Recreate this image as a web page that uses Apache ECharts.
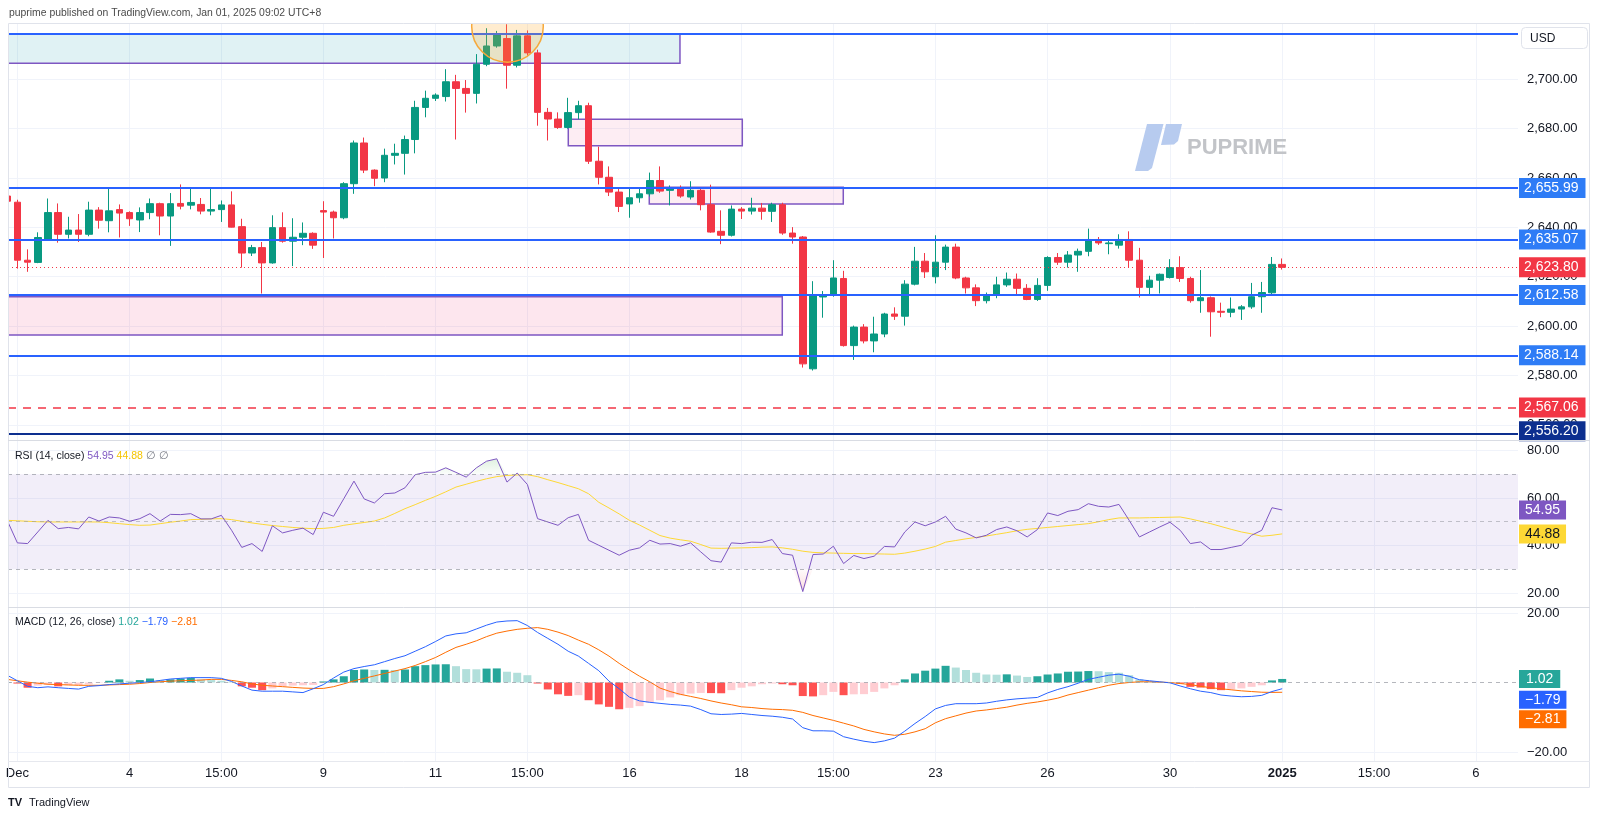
<!DOCTYPE html>
<html><head><meta charset="utf-8">
<script src="https://cdn.jsdelivr.net/npm/echarts@6/dist/echarts.min.js"></script>
<style>html,body{margin:0;padding:0;background:#fff;}#c{width:1600px;height:819px;}</style>
</head><body><div id="c"></div>
<script>
// ---------- DATA (4h bars, index 0..125) ----------
const opens = [2652.7,2650.2,2626.7,2625.8,2635.2,2646.0,2637.2,2638.9,2637.2,2647.0,2642.7,2647.2,2646.0,2643.0,2646.0,2649.6,2644.6,2649.7,2649.0,2649.3,2646.6,2647.2,2649.1,2640.3,2629.6,2631.8,2625.6,2639.9,2634.4,2636.0,2637.6,2646.8,2646.2,2643.9,2657.7,2674.2,2663.2,2660.0,2669.2,2670.0,2675.6,2688.6,2692.3,2693.0,2699.0,2696.3,2694.3,2706.1,2713.5,2716.5,2705.7,2717.6,2710.7,2686.6,2683.9,2680.5,2686.5,2689.3,2666.8,2660.3,2654.3,2649.5,2652.0,2653.6,2659.0,2655.0,2655.9,2652.3,2655.0,2649.2,2638.4,2636.8,2647.4,2646.6,2647.8,2646.5,2649.2,2637.7,2636.1,2582.7,2611.8,2612.6,2619.3,2592.1,2599.6,2594.0,2596.8,2604.9,2604.0,2617.0,2626.3,2620.0,2625.9,2632.0,2619.5,2615.5,2610.3,2612.6,2616.7,2619.0,2615.3,2610.8,2616.5,2627.8,2625.9,2628.8,2630.3,2635.1,2633.4,2632.8,2635.1,2626.7,2615.7,2618.6,2619.7,2623.7,2619.3,2610.3,2611.5,2606.0,2605.6,2606.9,2607.8,2611.9,2613.5,2625.0];
const highs = [2654.0,2651.2,2631.1,2638.0,2651.7,2649.7,2644.3,2645.4,2650.4,2648.2,2656.3,2649.3,2646.5,2648.1,2651.7,2650.0,2653.9,2657.4,2655.7,2651.9,2655.7,2650.9,2654.6,2643.5,2632.9,2634.1,2644.9,2646.1,2643.7,2642.0,2638.0,2650.6,2646.8,2658.3,2675.2,2676.4,2663.5,2671.9,2673.9,2677.2,2691.3,2695.4,2694.3,2704.1,2701.8,2699.7,2710.2,2720.7,2719.6,2722.3,2720.0,2719.8,2712.0,2688.4,2686.6,2692.5,2691.3,2690.5,2672.7,2664.7,2655.7,2656.1,2656.3,2662.2,2664.7,2657.0,2657.0,2658.7,2656.0,2657.3,2646.9,2648.9,2648.2,2652.0,2649.9,2650.0,2650.0,2640.1,2636.5,2618.2,2614.2,2626.7,2622.4,2600.2,2600.8,2603.8,2605.4,2607.6,2618.6,2632.1,2629.6,2636.8,2633.0,2633.4,2620.0,2616.9,2613.6,2620.0,2621.7,2621.3,2617.0,2619.4,2628.3,2629.6,2630.4,2631.4,2639.5,2636.1,2635.1,2637.2,2638.4,2631.7,2620.4,2621.3,2627.1,2628.3,2620.0,2622.7,2612.0,2609.5,2611.6,2608.5,2617.5,2617.9,2628.0,2627.4];
const lows = [2649.5,2623.3,2622.0,2625.5,2635.0,2633.8,2635.5,2634.1,2636.4,2639.5,2638.0,2635.9,2640.6,2638.1,2643.3,2636.8,2632.5,2647.3,2647.3,2645.3,2644.9,2642.2,2640.0,2623.7,2628.4,2613.2,2625.3,2633.8,2624.3,2632.8,2631.3,2627.6,2635.5,2643.3,2653.6,2662.0,2656.7,2658.3,2665.5,2661.4,2670.0,2684.6,2691.2,2691.0,2675.6,2686.5,2690.2,2705.3,2712.8,2696.2,2704.8,2709.5,2681.2,2675.2,2679.9,2680.0,2683.8,2665.7,2657.4,2652.7,2646.2,2643.9,2650.0,2652.5,2654.0,2648.9,2652.0,2651.3,2646.9,2637.8,2633.2,2636.3,2643.4,2645.2,2643.1,2642.2,2637.0,2633.4,2583.2,2582.0,2603.4,2611.9,2591.7,2586.3,2593.0,2589.4,2595.5,2602.5,2600.2,2616.5,2619.5,2617.3,2622.7,2619.0,2613.2,2608.1,2609.2,2611.3,2615.9,2613.0,2610.5,2610.2,2614.3,2624.8,2623.7,2622.0,2628.3,2632.9,2629.1,2631.4,2623.7,2611.6,2613.0,2613.2,2619.3,2617.9,2609.5,2605.4,2595.7,2603.6,2603.6,2602.5,2607.0,2605.4,2613.0,2622.9];
const closes = [2650.6,2626.7,2625.9,2635.9,2646.0,2637.2,2638.9,2637.2,2647.0,2642.9,2646.7,2645.8,2643.5,2646.0,2649.6,2644.6,2649.6,2648.6,2650.1,2646.6,2647.2,2649.1,2640.1,2629.6,2631.8,2625.6,2639.9,2634.4,2636.0,2637.6,2632.8,2646.2,2643.9,2657.7,2674.2,2663.2,2659.9,2669.2,2670.0,2675.6,2688.6,2692.3,2693.6,2699.0,2696.3,2694.3,2706.1,2713.5,2717.9,2705.7,2717.6,2710.7,2686.6,2683.9,2680.5,2686.5,2689.3,2666.8,2660.3,2654.3,2648.5,2652.0,2653.6,2659.0,2654.7,2655.7,2652.7,2655.0,2649.2,2638.1,2636.8,2647.4,2646.6,2647.8,2646.5,2649.2,2637.7,2636.1,2584.7,2612.6,2612.6,2619.5,2592.1,2599.6,2594.0,2596.8,2604.9,2604.0,2617.0,2626.3,2622.0,2625.9,2632.0,2619.5,2615.5,2610.3,2612.6,2616.7,2619.0,2615.3,2610.8,2616.5,2627.8,2625.9,2628.8,2630.3,2635.1,2633.7,2633.7,2635.1,2626.7,2615.7,2618.6,2621.0,2623.7,2619.3,2610.3,2611.5,2605.8,2605.6,2606.9,2607.8,2611.9,2613.6,2625.0,2623.8];

const rsi = [50.6,41.1,40.8,45.7,50.6,47.1,47.6,47.0,52.0,50.3,52.0,51.6,50.2,51.3,53.4,50.3,53.1,53.0,53.4,51.2,51.2,52.7,46.4,39.2,40.8,37.5,48.3,45.3,46.4,47.3,44.6,54.0,52.3,59.7,67.1,59.6,57.9,61.8,62.1,64.3,69.8,70.8,70.9,72.7,70.8,68.8,72.7,75.5,76.5,66.7,70.5,65.7,51.3,49.9,48.5,51.7,53.1,42.2,40.1,38.0,35.9,38.0,39.0,42.2,40.6,40.8,39.7,41.1,37.3,33.6,33.0,41.1,40.8,41.4,41.3,42.5,36.6,35.9,20.6,36.2,36.4,39.7,32.4,35.8,34.5,35.5,39.6,39.4,45.7,49.9,48.3,49.9,52.3,46.9,45.3,43.2,44.3,46.7,47.8,46.2,43.6,46.7,53.7,52.6,54.4,55.1,57.6,56.5,56.2,57.3,50.6,43.6,45.7,47.8,49.8,46.4,40.8,41.5,38.3,38.3,39.2,40.1,44.3,46.4,55.9,54.95];
const rsiMa = [50.6,50.4,50.2,50.0,49.9,49.9,49.9,49.9,49.9,49.9,49.6,49.2,48.8,48.5,48.6,49.2,49.8,50.3,50.9,51.0,51.2,51.3,50.9,50.2,49.5,48.9,48.4,48.0,47.6,47.3,47.1,47.2,47.6,48.5,49.1,49.7,50.3,51.6,53.5,55.5,57.2,59.0,60.7,62.6,64.6,65.8,67.0,68.1,69.0,69.5,69.7,69.8,69.0,67.7,66.5,65.2,63.9,61.8,58.2,55.8,53.3,50.6,48.6,46.4,44.2,43.1,42.4,41.8,40.4,38.9,38.8,38.9,39.0,39.1,39.3,39.4,39.0,38.4,37.6,37.1,36.9,36.8,36.7,36.6,36.6,36.5,36.4,36.3,36.8,37.6,38.5,39.6,41.4,42.1,42.8,43.4,44.0,44.7,45.4,46.2,46.8,47.2,47.6,48.0,48.4,48.8,49.2,50.0,50.9,51.6,51.6,51.6,51.7,51.8,51.9,52.0,51.2,50.2,49.2,48.0,46.8,45.7,44.9,43.9,44.3,44.88];

const macd = [2.1,0.5,-1.1,-1.5,-1.25,-1.5,-1.7,-1.9,-1.1,-0.9,-0.6,-0.4,-0.2,0.0,0.2,0.6,1.0,1.2,1.4,1.4,1.4,1.2,0.3,-1.0,-2.2,-2.5,-2.5,-2.5,-2.7,-2.9,-1.8,-0.6,1.3,3.0,4.0,4.6,5.1,6.0,6.9,7.7,9.0,10.3,11.8,13.4,14.0,14.3,15.4,16.5,17.4,17.7,17.8,16.4,14.4,12.7,11.0,9.0,7.6,5.5,3.4,0.4,-1.8,-4.2,-5.3,-5.7,-6.0,-6.3,-6.5,-6.8,-7.8,-9.0,-9.2,-9.1,-8.9,-9.2,-9.5,-9.7,-10.0,-10.5,-13.0,-13.9,-13.9,-14.0,-15.6,-16.3,-16.9,-17.3,-16.8,-16.0,-14.0,-11.8,-9.8,-7.6,-6.6,-6.1,-6.1,-6.1,-5.9,-5.4,-5.0,-4.7,-4.5,-4.3,-3.0,-2.0,-1.2,-0.2,0.9,1.5,2.1,2.4,1.8,0.8,0.5,0.2,-0.1,-1.0,-1.8,-2.5,-2.9,-3.6,-3.9,-4.1,-4.0,-3.7,-2.6,-1.79];
const signal = [0.9,0.5,0.1,-0.2,-0.5,-0.6,-0.7,-0.8,-0.8,-0.8,-0.7,-0.6,-0.5,-0.3,0.0,0.2,0.4,0.5,0.6,0.7,0.9,0.9,0.6,0.2,-0.4,-0.8,-1.0,-1.2,-1.4,-1.6,-1.7,-1.7,-1.2,-0.4,0.5,1.2,1.9,2.6,3.3,4.0,4.9,6.0,7.2,8.7,10.1,11.0,12.0,13.2,14.2,14.8,15.3,15.6,15.8,15.3,14.5,13.5,12.2,11.0,9.4,7.6,5.5,3.6,1.8,0.2,-1.6,-2.6,-3.4,-4.0,-4.6,-5.3,-5.9,-6.4,-7.0,-7.2,-7.5,-7.7,-7.8,-8.0,-8.6,-9.5,-10.2,-10.9,-11.7,-12.5,-13.5,-14.2,-14.8,-15.2,-14.9,-14.2,-13.3,-11.6,-10.4,-9.6,-8.8,-8.2,-7.9,-7.5,-7.1,-6.5,-6.0,-5.6,-5.1,-4.5,-3.6,-2.9,-2.2,-1.5,-0.8,-0.3,0.0,0.2,0.2,0.1,0.0,-0.3,-0.6,-1.1,-1.5,-1.8,-2.1,-2.4,-2.6,-2.8,-2.85,-2.81];
const histogram = [0.1,-0.3,-1.5,-0.9,-0.7,-1.1,-0.8,-0.75,-0.5,-0.1,0.5,0.9,0.5,0.7,1.15,0.7,0.9,1.15,1.3,0.9,0.7,0.5,0.2,-1.1,-1.5,-2.2,-1.7,-1.1,-0.9,-0.8,-0.7,0.3,0.9,1.8,3.6,3.75,3.6,3.65,3.6,3.75,4.7,5.0,5.2,5.25,4.7,3.85,3.8,4.0,4.05,3.1,2.8,2.1,-0.3,-2.0,-3.4,-3.85,-3.65,-5.1,-6.3,-7.0,-7.7,-7.3,-6.8,-5.8,-5.1,-4.3,-3.65,-3.2,-3.0,-3.05,-3.1,-2.2,-1.5,-1.1,-0.5,-0.3,-0.5,-0.8,-3.9,-4.0,-3.65,-2.7,-3.65,-3.4,-3.35,-2.7,-1.7,-0.8,0.9,2.6,3.4,4.0,4.8,4.3,3.6,2.8,2.3,2.25,2.35,2.0,1.6,1.8,2.3,2.6,3.1,3.15,3.3,3.25,3.0,2.8,2.1,0.9,0.4,0.2,0.1,-0.3,-1.25,-1.45,-1.9,-2.2,-2.0,-1.7,-1.25,-0.8,0.6,1.02];

// time scale labels (bar index -> text)
const tickIdx  = [1, 12, 21, 31, 42, 51, 61, 72, 81, 91, 102, 114, 125, 134, 144];
const tickText = ['Dec','4','15:00','9','11','15:00','16','18','15:00','23','26','30','2025','15:00','6'];

const priceTicks = [2560, 2580, 2600, 2620, 2640, 2660, 2680, 2700];
const rsiTicks = [20, 40, 60, 80];
const macdTicks = [20, -20];

// horizontal levels
const blueLevels = [2655.99, 2635.07, 2612.58, 2588.14];
const topLevel = 2718.40;
const redDashLevel = 2567.06;
const navyLevel = 2556.20;
const lastPrice = 2623.80;

// zones: [x1, x2, top, bottom]
const zoneX1 = [null, 55.01, 62.95, null];
const zoneX2 = [65.96, 72.07, 81.97, 75.99];
const zoneTop = [2718.35, 2683.79, 2656.24, 2611.91];
const zoneBottom = [2706.48, 2673.10, 2649.47, 2596.40];
// highlight circle: [barIndex, price, radiusInPrice]
const circle = [[49.05, 2721.4, 14.5]];

// ---------- CHART ----------
const FONT = '"Liberation Sans", Arial, sans-serif';
const X_MIN = 0.08, X_MAX = 148.12;
const UP = '#089981', DOWN = '#F23645';
const GRIDC = '#F0F3FA';
const fmt2 = v => v.toLocaleString('en-US', {minimumFractionDigits: 2, maximumFractionDigits: 2}).replace('-', '\u2212');

const candleData = closes.map((c, i) => [i, opens[i], c, lows[i], highs[i]]);
const pair = arr => arr.map((v, i) => [i, v]);

const histData = histogram.map((v, i) => {
  const prev = i > 0 ? histogram[i - 1] : v;
  let col;
  if (v >= 0) col = v > prev ? '#26A69A' : '#B2DFDB';
  else col = v > prev ? '#FFCDD2' : '#FF5252';
  if (i === 0) col = v >= 0 ? '#26A69A' : '#FF5252';
  return {value: [i, v], itemStyle: {color: col}};
});

function tag(bg, fg, extra) {
  return Object.assign({show: true, position: 'end', distance: 1, color: fg, backgroundColor: bg,
    padding: [3, 7, 3, 5], fontSize: 14, lineHeight: 14, fontFamily: FONT,
    formatter: p => fmt2(p.value)}, extra || {});
}

const xAxisBase = (gi, showLabel) => ({
  type: 'value', gridIndex: gi, min: X_MIN, max: X_MAX,
  axisLine: {show: false},
  axisTick: {show: false, customValues: tickIdx},
  splitLine: {show: true, lineStyle: {color: GRIDC, width: 1}},
  axisLabel: showLabel ? {
    show: true, customValues: tickIdx, margin: 6, fontSize: 13, color: '#131722', fontFamily: FONT,
    formatter: v => { const k = tickIdx.indexOf(Math.round(v)); const t = k >= 0 ? tickText[k] : ''; return t === '2025' ? '{b|2025}' : t; },
    rich: {b: {fontWeight: 'bold', fontSize: 13, color: '#131722', fontFamily: FONT}}
  } : {show: false}
});

const yAxisBase = (gi, min, max, ticks) => ({
  type: 'value', gridIndex: gi, position: 'right', min, max,
  axisLine: {show: false},
  axisTick: {show: false, customValues: ticks},
  splitLine: {show: true, lineStyle: {color: GRIDC, width: 1}},
  axisLabel: {show: true, customValues: ticks, margin: 9, fontSize: 13, color: '#131722', fontFamily: FONT, formatter: v => fmt2(v)}
});

const zonesStyle = [
  {color: 'rgba(0,151,167,0.12)', borderColor: '#7E57C2', borderWidth: 1.5},
  {color: 'rgba(233,30,99,0.08)', borderColor: '#7E57C2', borderWidth: 1.5},
  {color: 'rgba(233,30,99,0.08)', borderColor: '#7E57C2', borderWidth: 1.5},
  {color: 'rgba(233,30,99,0.11)', borderColor: '#7E57C2', borderWidth: 1.5}
];
const zoneData = zoneX2.map((x2, k) => [
  {xAxis: zoneX1[k] == null ? X_MIN : zoneX1[k], yAxis: zoneTop[k], itemStyle: zonesStyle[k]},
  {xAxis: x2, yAxis: zoneBottom[k]}
]);

const priceLines = [
  {yAxis: topLevel, lineStyle: {color: '#2962FF', width: 2, type: 'solid'}, label: {show: false}},
  ...blueLevels.map(v => ({yAxis: v, lineStyle: {color: '#2962FF', width: 2, type: 'solid'}, label: tag('#2E7CF6', '#fff')})),
  {yAxis: lastPrice, lineStyle: {color: '#F23645', width: 1, type: [1, 3]}, label: tag('#F23645', '#fff')},
  {yAxis: redDashLevel, lineStyle: {color: '#F23645', width: 1.5, type: [8, 7]}, label: tag('#F23645', '#fff')},
  {yAxis: navyLevel, lineStyle: {color: '#0D2F8F', width: 2, type: 'solid'}, label: tag('#0D2F8F', '#fff', {offset: [0, -3]})}
];

const invisible = {color: 'rgba(0,0,0,0)', width: 0};
const rsiLines = [
  {yAxis: 70, lineStyle: {color: '#9598A1', width: 1, type: [4, 4], opacity: 0.7}, label: {show: false}},
  {yAxis: 50, lineStyle: {color: '#9598A1', width: 1, type: [4, 4], opacity: 0.55}, label: {show: false}},
  {yAxis: 30, lineStyle: {color: '#9598A1', width: 1, type: [4, 4], opacity: 0.7}, label: {show: false}},
  {yAxis: rsi[rsi.length - 1], lineStyle: invisible, label: tag('#7E57C2', '#fff', {padding: [3, 6, 2, 6]})},
  {yAxis: rsiMa[rsiMa.length - 1], lineStyle: invisible, label: tag('#FDD835', '#131722', {padding: [3, 6, 2, 6]})}
];
const macdLines = [
  {yAxis: 0, lineStyle: {color: '#9598A1', width: 1, type: [4, 4], opacity: 0.7}, label: {show: false}},
  {yAxis: histogram[histogram.length - 1], lineStyle: invisible, label: tag('#26A69A', '#fff', {padding: [2, 7, 2, 7], offset: [0, 0]})},
  {yAxis: macd[macd.length - 1], lineStyle: invisible, label: tag('#2962FF', '#fff', {padding: [2, 6, 2, 6], offset: [0, 11]})},
  {yAxis: signal[signal.length - 1], lineStyle: invisible, label: tag('#FF6D00', '#fff', {padding: [2, 6, 2, 6], offset: [0, 27]})}
];

// overbought / oversold highlight fills (derived from the RSI readings)
const rsiOver = rsi.map((v, i) => [i, Math.max(v, 70)]);
const rsiUnder = rsi.map((v, i) => [i, Math.min(v, 30)]);

const chart = echarts.init(document.getElementById('c'), null, {renderer: 'canvas'});
chart.setOption({
  animation: false,
  backgroundColor: '#ffffff',
  grid: [
    {left: 8, right: 82, top: 23, height: 417},
    {left: 8, right: 82, top: 440, height: 168},
    {left: 8, right: 82, top: 608, height: 153}
  ],
  xAxis: [xAxisBase(0, false), xAxisBase(1, false), xAxisBase(2, true)],
  yAxis: [
    yAxisBase(0, 2553.85, 2722.81, priceTicks),
    yAxisBase(1, 13.68, 84.42, rsiTicks),
    yAxisBase(2, -22.59, 21.44, macdTicks)
  ],
  series: [
    {
      type: 'candlestick', name: 'XAUUSD', xAxisIndex: 0, yAxisIndex: 0,
      data: candleData, encode: {x: 0, y: [1, 2, 3, 4]}, barWidth: 7, clip: true,
      itemStyle: {color: UP, color0: DOWN, borderColor: UP, borderColor0: DOWN, borderWidth: 1},
      markArea: {silent: true, data: zoneData},
      markLine: {silent: true, symbol: ['none', 'none'], data: priceLines, animation: false}
    },
    {
      type: 'custom', name: 'highlight', xAxisIndex: 0, yAxisIndex: 0, clip: true, z: 5, silent: true,
      data: circle,
      renderItem: (params, api) => {
        const c = api.coord([api.value(0), api.value(1)]);
        const r = api.size([0, api.value(2)])[1];
        return {type: 'circle', shape: {cx: c[0], cy: c[1], r: r},
          style: {fill: 'rgba(255,167,38,0.22)', stroke: '#F6A93B', lineWidth: 1.5}};
      }
    },
    {
      type: 'line', name: 'RSI over', xAxisIndex: 1, yAxisIndex: 1, data: rsiOver, showSymbol: false, symbol: 'none',
      lineStyle: {width: 0}, silent: true, z: 2,
      areaStyle: {origin: 70, color: {type: 'linear', x: 0, y: 0, x2: 0, y2: 1, colorStops: [{offset: 0, color: 'rgba(76,175,80,0.25)'}, {offset: 1, color: 'rgba(76,175,80,0.03)'}]}}
    },
    {
      type: 'line', name: 'RSI under', xAxisIndex: 1, yAxisIndex: 1, data: rsiUnder, showSymbol: false, symbol: 'none',
      lineStyle: {width: 0}, silent: true, z: 2,
      areaStyle: {origin: 30, color: {type: 'linear', x: 0, y: 0, x2: 0, y2: 1, colorStops: [{offset: 0, color: 'rgba(242,54,69,0.03)'}, {offset: 1, color: 'rgba(242,54,69,0.25)'}]}}
    },
    {
      type: 'line', name: 'RSI', xAxisIndex: 1, yAxisIndex: 1, data: pair(rsi), showSymbol: false, symbol: 'none',
      lineStyle: {color: '#7E57C2', width: 1}, z: 4,
      markArea: {silent: true, data: [[{xAxis: X_MIN, yAxis: 70, itemStyle: {color: 'rgba(126,87,194,0.1)'}}, {xAxis: X_MAX, yAxis: 30}]]},
      markLine: {silent: true, symbol: ['none', 'none'], data: rsiLines}
    },
    {
      type: 'line', name: 'RSI MA', xAxisIndex: 1, yAxisIndex: 1, data: pair(rsiMa), showSymbol: false, symbol: 'none',
      lineStyle: {color: '#FDD835', width: 1}, z: 3
    },
    {
      type: 'bar', name: 'Histogram', xAxisIndex: 2, yAxisIndex: 2, data: histData, barWidth: 8,
      markLine: {silent: true, symbol: ['none', 'none'], data: macdLines}
    },
    {
      type: 'line', name: 'MACD', xAxisIndex: 2, yAxisIndex: 2, data: pair(macd), showSymbol: false, symbol: 'none',
      lineStyle: {color: '#2962FF', width: 1}, z: 4
    },
    {
      type: 'line', name: 'Signal', xAxisIndex: 2, yAxisIndex: 2, data: pair(signal), showSymbol: false, symbol: 'none',
      lineStyle: {color: '#FF6D00', width: 1}, z: 3
    }
  ],
  graphic: [
    {type: 'rect', silent: true, z: 99, shape: {x: 0, y: 23, width: 8, height: 740}, style: {fill: '#ffffff'}},
    {type: 'text', x: 9, y: 13, silent: true, style: {text: 'puprime published on TradingView.com, Jan 01, 2025 09:02 UTC+8', font: '10.4px ' + FONT, fill: '#4A4A4A', verticalAlign: 'middle'}},
    {type: 'rect', silent: true, z: 100, shape: {x: 8.5, y: 23.5, width: 1581, height: 764}, style: {fill: 'none', stroke: '#E0E3EB', lineWidth: 1}},
    {type: 'line', silent: true, z: 100, shape: {x1: 8, y1: 440.5, x2: 1590, y2: 440.5}, style: {stroke: '#D9DCE3', lineWidth: 1}},
    {type: 'line', silent: true, z: 100, shape: {x1: 8, y1: 607.5, x2: 1590, y2: 607.5}, style: {stroke: '#D9DCE3', lineWidth: 1}},
    {type: 'line', silent: true, z: 100, shape: {x1: 8, y1: 761.5, x2: 1590, y2: 761.5}, style: {stroke: '#E6E8EE', lineWidth: 1}},
    {type: 'rect', silent: true, z: 100, shape: {x: 1521.5, y: 27.5, width: 66, height: 21, r: 4}, style: {fill: '#fff', stroke: '#E0E3EB', lineWidth: 1}},
    {type: 'text', silent: true, z: 101, x: 1530, y: 38.5, style: {text: 'USD', font: '12px ' + FONT, fill: '#131722', verticalAlign: 'middle'}},
    // watermark
    {type: 'polygon', silent: true, z: 1, shape: {points: [[1147, 124], [1163.5, 124], [1152, 168], [1148, 171], [1135, 171]]}, style: {fill: '#B7CBEF'}},
    {type: 'polygon', silent: true, z: 1, shape: {points: [[1166, 124], [1182, 124], [1178, 141], [1174, 144.5], [1161, 145]]}, style: {fill: '#B7CBEF'}},
    {type: 'text', silent: true, z: 1, x: 1187, y: 147.5, style: {text: 'PUPRIME', font: 'bold 22px ' + FONT, fill: '#C2C4C8', verticalAlign: 'middle'}},
    // legends
    {type: 'text', silent: true, z: 50, x: 15, y: 456, style: {verticalAlign: 'middle', font: '10.5px ' + FONT,
      text: '{n|RSI (14, close)} {a|54.95} {b|44.88} {g|\u2205} {g|\u2205}',
      rich: {n: {fill: '#131722', font: '10.5px ' + FONT}, a: {fill: '#7E57C2', font: '10.5px ' + FONT}, b: {fill: '#F5C400', font: '10.5px ' + FONT}, g: {fill: '#787B86', font: '10.5px ' + FONT}}}},
    {type: 'text', silent: true, z: 50, x: 15, y: 622, style: {verticalAlign: 'middle', font: '10.5px ' + FONT,
      text: '{n|MACD (12, 26, close)} {a|1.02} {b|\u22121.79} {c|\u22122.81}',
      rich: {n: {fill: '#131722', font: '10.5px ' + FONT}, a: {fill: '#26A69A', font: '10.5px ' + FONT}, b: {fill: '#2962FF', font: '10.5px ' + FONT}, c: {fill: '#FF6D00', font: '10.5px ' + FONT}}}},
    // footer
    {type: 'text', silent: true, x: 8, y: 803, style: {text: 'TV', font: '900 11px ' + FONT, fill: '#131722', verticalAlign: 'middle'}},
    {type: 'text', silent: true, x: 29, y: 803, style: {text: 'TradingView', font: '11px ' + FONT, fill: '#131722', verticalAlign: 'middle'}}
  ]
});
</script>
</body></html>
